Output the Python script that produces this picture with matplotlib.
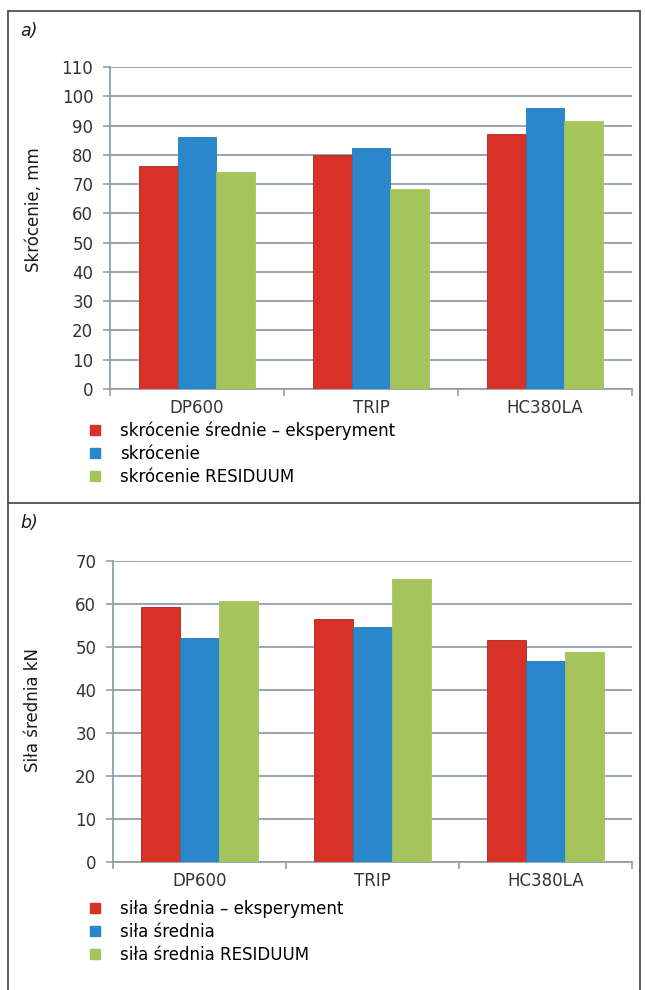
import matplotlib
matplotlib.use("Agg")
import matplotlib.pyplot as plt
from matplotlib.lines import Line2D
import numpy as np

categories = ["DP600", "TRIP", "HC380LA"]

a_labels = ["skrócenie średnie – eksperyment", "skrócenie", "skrócenie RESIDUUM"]
a_exp = [76.2, 80.0, 87.2]
a_calc = [86.0, 82.3, 96.1]
a_res = [74.0, 68.4, 91.6]
a_yticks = list(range(0, 111, 10))

b_labels = ["siła średnia – eksperyment", "siła średnia", "siła średnia RESIDUUM"]
b_exp = [59.2, 56.4, 51.7]
b_calc = [52.2, 54.6, 46.8]
b_res = [60.6, 65.8, 48.9]
b_yticks = list(range(0, 71, 10))

colors = ["#d83228", "#2a87cb", "#a5c45b"]
edge = ["#a82620", "#2277b5", "#a5c45b"]
grid_c = "#929fa8"
FONT = "DejaVu Sans"

W, H = 645, 990
fig = plt.figure(figsize=(W / 100, H / 100), dpi=100)

def fx(px):
    return px / W

def fy(py):
    return 1 - py / H

def panel(left, right, top, bottom, series, labels, yticks, ymax, ylabel, ylab_pos,
          tag, tag_y, leg_top):
    ax = fig.add_axes([fx(left), fy(bottom), fx(right - left), (bottom - top) / H])
    x = np.arange(len(categories))
    w = 0.224
    for i, s in enumerate(series):
        ax.bar(x + (i - 1) * w, s, width=w, color=colors[i], edgecolor=edge[i],
               linewidth=0.6, zorder=3, label=labels[i])
    ax.set_xlim(-0.5, len(categories) - 0.5)
    ax.set_ylim(0, ymax)
    ax.set_yticks(yticks)
    ax.yaxis.grid(True, color=grid_c, linewidth=1.3, zorder=0)
    ax.set_axisbelow(True)
    for sp in ["top", "right"]:
        ax.spines[sp].set_visible(False)
    ax.spines["left"].set_color(grid_c)
    ax.spines["left"].set_linewidth(1.3)
    ax.spines["bottom"].set_color(grid_c)
    ax.spines["bottom"].set_linewidth(1.3)
    ax.set_xticks(np.arange(-0.5, len(categories), 1.0))
    ax.set_xticklabels([])
    ax.set_xticks(x, minor=True)
    ax.set_xticklabels(categories, minor=True)
    ax.tick_params(axis="x", which="major", length=5, width=1.2, color=grid_c)
    ax.tick_params(axis="x", which="minor", length=0, pad=7, labelsize=12,
                   labelcolor="#333333")
    ax.tick_params(axis="y", length=5, width=1.2, color=grid_c, pad=7,
                   labelsize=12, labelcolor="#333333")
    for lab in ax.get_xticklabels(minor=True) + ax.get_yticklabels():
        lab.set_fontfamily(FONT)
    fig.text(fx(ylab_pos[0]), fy(ylab_pos[1]), ylabel, rotation=90, ha="center",
             va="center", fontsize=12, family=FONT, color="#1a1a1a")
    fig.text(fx(20), fy(tag_y), tag, fontsize=12.5, style="italic",
             family=FONT, ha="left", va="center", color="#1a1a1a")
    handles = [Line2D([0], [0], marker="s", linestyle="none", markersize=7.2,
                      markerfacecolor=colors[i], markeredgecolor=colors[i])
               for i in range(3)]
    fig.legend(handles, labels, loc="upper left",
               bbox_to_anchor=(fx(90), fy(leg_top)), frameon=False,
               prop={"family": FONT, "size": 12},
               handlelength=0.6, handletextpad=1.2, labelspacing=0.32,
               borderpad=0, borderaxespad=0)
    return ax

panel(110, 632, 67, 389, [a_exp, a_calc, a_res], a_labels, a_yticks, 110,
      "Skrócenie, mm", (34, 210), "a)", 31, 421)
panel(113, 632, 561, 862, [b_exp, b_calc, b_res], b_labels, b_yticks, 70,
      "Siła średnia kN", (33, 710), "b)", 523, 899)

# outer frame and separator
frame_c = "#505050"
fig.add_artist(Line2D([fx(8), fx(8)], [fy(11), 0], color=frame_c, lw=1.3))
fig.add_artist(Line2D([fx(640), fx(640)], [fy(11), 0], color=frame_c, lw=1.3))
fig.add_artist(Line2D([fx(8), fx(640)], [fy(11), fy(11)], color=frame_c, lw=1.3))
fig.add_artist(Line2D([fx(8), fx(640)], [fy(503), fy(503)], color=frame_c, lw=1.3))

fig.savefig("out.png", dpi=100, facecolor="white")
